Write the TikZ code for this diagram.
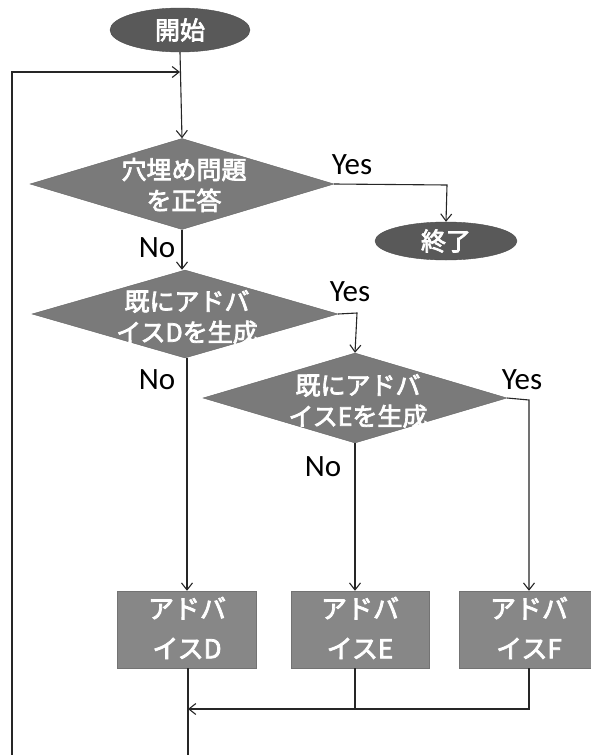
\documentclass[tikz,border=0pt]{standalone}
\usepackage{fontspec}
\setmainfont{Carlito}
\newfontfamily\cjk[FakeBold=3]{Noto Sans CJK JP}
\usetikzlibrary{shapes.geometric,arrows.meta}
\begin{document}
\begin{tikzpicture}[x=1pt,y=-1pt,
  line/.style={draw=black!85,line width=1.1pt},
  arr/.style={line,-{Straight Barb[length=7pt,width=11pt,line width=1.1pt]}},
  dia/.style={diamond,fill=black!52,draw=black!60,line width=0.4pt,inner sep=0pt,minimum width=304pt,minimum height=91pt},
  term/.style={ellipse,fill=black!65,draw=black!70,line width=0.4pt,inner sep=0pt},
  proc/.style={rectangle,fill=black!47,draw=black!55,line width=0.4pt,minimum width=139pt,minimum height=77pt,inner sep=0pt},
  jtext/.style={text=white,font=\cjk\fontsize{25}{31}\selectfont,align=center,inner sep=0pt},
  btext/.style={text=white,font=\cjk\fontsize{26}{40}\selectfont,align=center,inner sep=0pt},
  yn/.style={font=\fontsize{31}{32}\selectfont,inner sep=0pt}
]
\useasboundingbox[fill=white] (0,0) rectangle (590,755);

% terminals
\node[term,minimum width=140pt,minimum height=44pt] (start) at (180,30) {};
\node[jtext] (startt) at (start) {開始};
\node[term,minimum width=142pt,minimum height=38pt] (end) at (446,241) {};
\node[jtext] (endt) at (end) {終了};

% decisions
\node[dia] (d1) at (182,184) {};
\node[jtext] (d1t) at (184,185) {穴埋め問題\\を正答};
\node[dia,minimum width=306pt,minimum height=88pt] (d2) at (185,314) {};
\node[jtext] (d2t) at (187,317) {既にアドバ\\イスDを生成};
\node[dia,minimum width=304pt,minimum height=90pt] (d3) at (355,398) {};
\node[jtext] (d3t) at (358,401) {既にアドバ\\イスEを生成};

% process boxes
\node[proc] (bD) at (187,629.5) {};
\node[btext] (bDt) at (187,628) {アドバ\\イスD};
\node[proc,minimum width=138pt] (bE) at (360,629.5) {};
\node[btext] (bEt) at (360,628) {アドバ\\イスE};
\node[proc,minimum width=140pt] (bF) at (529,629.5) {};
\node[btext] (bFt) at (529,628) {アドバ\\イスF};

% labels
\node[yn] (y1) at (352,165) {Yes};
\node[yn] (n1) at (157,248) {No};
\node[yn] (y2) at (350,292) {Yes};
\node[yn] (n2) at (157,380) {No};
\node[yn] (y3) at (522,380) {Yes};
\node[yn] (n3) at (323,467) {No};

% coordinates
\coordinate (join) at (180,72);
\coordinate (loopbot) at (12,756);
\coordinate (dbot) at (188,756);
\coordinate (merge) at (188,709);
\coordinate (y1c) at (447,185);
\coordinate (y2c) at (357,313);
\coordinate (y3c) at (529,400);

% connectors
\draw[arr] (start.south) -- (d1.north);
\draw[arr] (loopbot) |- (join);
\draw[arr] (d1.east) -- (y1c) -- (end.north);
\draw[arr] (d1.south) -- (d1.south |- d2.north);
\draw[arr] (d2.east) -- (y2c) -- (d3.north);
\draw[arr] (d2.south -| bD.north) -- (bD.north);
\draw[arr] (d3.east) -- (y3c) -- (bF.north);
\draw[arr] (d3.south) -- (d3.south |- bE.north);
\draw[line] (bD.south -| dbot) -- (dbot);
\draw[line] (bE.south -| d3.south) -- (d3.south |- merge);
\draw[arr] (bF.south) |- (merge);
\end{tikzpicture}
\end{document}
